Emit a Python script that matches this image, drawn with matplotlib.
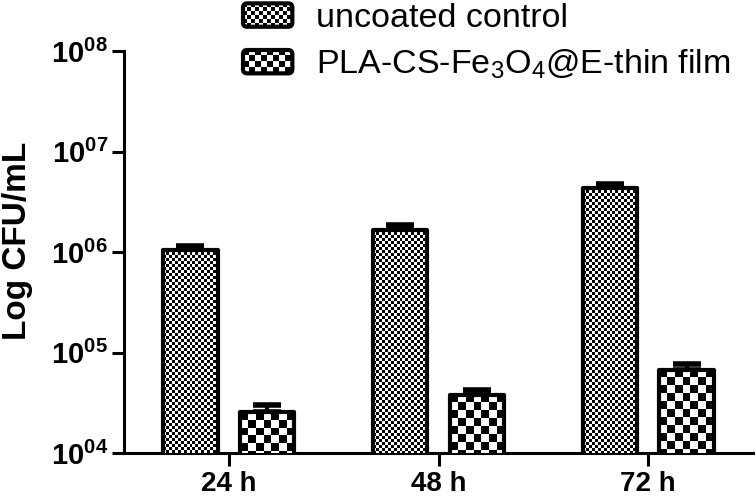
import numpy as np
import matplotlib
matplotlib.use('Agg')
import matplotlib.pyplot as plt
from matplotlib.image import BboxImage
from matplotlib.transforms import Bbox, TransformedBbox
from matplotlib.legend_handler import HandlerBase
from matplotlib.patches import Rectangle, FancyBboxPatch
from matplotlib.ticker import FixedLocator, FuncFormatter, NullLocator

plt.rcParams['font.family'] = ['Liberation Sans', 'DejaVu Sans']
plt.rcParams['mathtext.fontset'] = 'custom'
plt.rcParams['mathtext.rm'] = 'Liberation Sans'
plt.rcParams['mathtext.bf'] = 'Liberation Sans:bold'
plt.rcParams['mathtext.it'] = 'Liberation Sans:italic'

# ---- data ----
categories = ['24 h', '48 h', '72 h']
control = [1.05e6, 1.66e6, 4.34e6]
control_err = [0.11e6, 0.18e6, 0.45e6]
film = [2.53e4, 3.78e4, 6.7e4]
film_err = [0.44e4, 0.41e4, 0.9e4]
series_labels = ['uncoated control', r'PLA-CS-Fe$_3$O$_4$@E-thin film']
ytick_values = [1e4, 1e5, 1e6, 1e7, 1e8]
ylabel = 'Log CFU/mL'

W, H, DPI = 756, 496, 100
fig = plt.figure(figsize=(W / DPI, H / DPI), dpi=DPI)
ax = fig.add_axes([124 / W, (H - 453) / H, (753 - 124) / W, (453 - 51) / H])
ax.set_yscale('log')
ax.set_ylim(ytick_values[0], ytick_values[-1])
ax.set_xlim(-0.5, 2.5)

x = np.arange(len(categories))
width = 0.26
off = 0.183
LW = 3.0

def checker(nx, ny, cell):
    i = np.arange(ny)[:, None] // cell
    j = np.arange(nx)[None, :] // cell
    c = ((i + j) % 2).astype(float)
    rgb = np.ones((ny, nx, 3))
    rgb[c == 0] = 0.0
    return rgb

def fill_checker(patch, cell):
    x0 = patch.get_x()
    x1 = x0 + patch.get_width()
    y1 = patch.get_y() + patch.get_height()
    y0 = max(patch.get_y(), ax.get_ylim()[0])
    bb = Bbox([[x0, y0], [x1, y1]])
    tb = TransformedBbox(bb, ax.transData)
    pw = int(round(abs(tb.width))) + 1
    ph = int(round(abs(tb.height))) + 1
    data = checker(pw, ph, cell)
    img = BboxImage(tb, data=data, interpolation='nearest', origin='upper')
    img.set_clip_path(patch)
    img.set_zorder(patch.get_zorder() - 0.1)
    ax.add_artist(img)

bars1 = ax.bar(x - off, control, width, facecolor='white', edgecolor='black',
               linewidth=LW, joinstyle='round', zorder=3)
bars2 = ax.bar(x + off, film, width, facecolor='white', edgecolor='black',
               linewidth=LW, joinstyle='round', zorder=3)
for p in bars1:
    p.set_facecolor('none')
    fill_checker(p, 3)
for p in bars2:
    p.set_facecolor('none')
    fill_checker(p, 8)

ax.errorbar(x - off, control, yerr=[np.zeros(3), control_err], fmt='none',
            ecolor='black', elinewidth=3, capsize=10, capthick=4, zorder=2.5)
ax.errorbar(x + off, film, yerr=[np.zeros(3), film_err], fmt='none',
            ecolor='black', elinewidth=3, capsize=10, capthick=4, zorder=2.5)

# axes styling
for s in ['top', 'right']:
    ax.spines[s].set_visible(False)
for s in ['left', 'bottom']:
    ax.spines[s].set_linewidth(2.2)
ax.yaxis.set_major_locator(FixedLocator(ytick_values))
ax.yaxis.set_minor_locator(NullLocator())
ax.yaxis.set_major_formatter(FuncFormatter(
    lambda v, p: r'$\mathbf{10^{%02d}}$' % int(round(np.log10(v)))))
ax.set_xticks(x)
ax.set_xticklabels(categories, fontweight='bold', fontsize=20)
ax.tick_params(axis='y', length=8.5, width=2.2, pad=3, labelsize=21)
ax.tick_params(axis='x', length=9, width=2.2, pad=4)
ax.set_ylabel(ylabel, fontsize=24, fontweight='bold')
ax.yaxis.set_label_coords(-0.145, 0.527)

# legend with checker handles
class CheckerHandler(HandlerBase):
    def __init__(self, cell):
        super().__init__()
        self.cell = cell

    def create_artists(self, legend, orig_handle, xdescent, ydescent,
                       width, height, fontsize, trans):
        rect = FancyBboxPatch((-xdescent, -ydescent), width, height,
                              boxstyle='round,pad=0,rounding_size=3',
                              facecolor='none', edgecolor='black',
                              linewidth=3.0, transform=trans)
        bb = Bbox.from_bounds(-xdescent, -ydescent, width, height)
        tb = TransformedBbox(bb, trans)
        pw = int(round(width * DPI / 72)) + 1
        ph = int(round(height * DPI / 72)) + 1
        img = BboxImage(tb, data=checker(pw, ph, self.cell),
                        interpolation='nearest', origin='upper')
        img.set_clip_path(rect)
        return [img, rect]

h1 = Rectangle((0, 0), 1, 1)
h2 = Rectangle((0, 0), 1, 1, label='b')
leg = fig.legend([h1, h2], series_labels, loc='upper left',
                 bbox_to_anchor=(243 / W, 1 - 3 / H), frameon=False,
                 fontsize=24.5, handlelength=1.45, handleheight=0.68,
                 handletextpad=0.7, labelspacing=0.4, borderpad=0,
                 borderaxespad=0,
                 handler_map={h1: CheckerHandler(4), h2: CheckerHandler(6)})

fig.savefig('out.png', dpi=DPI)
